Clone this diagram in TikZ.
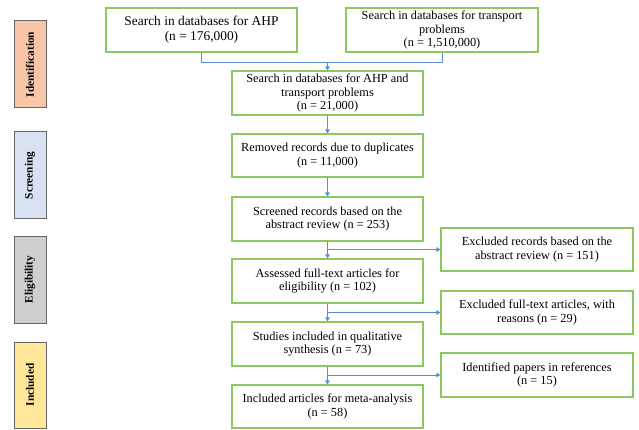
\documentclass[tikz,border=0pt]{standalone}
\usepackage{fontspec}
\setmainfont{Liberation Serif}
\usetikzlibrary{arrows.meta}
\definecolor{boxgreen}{HTML}{8DC85F}
\definecolor{arrowblue}{HTML}{5B8BD6}
\definecolor{idfill}{HTML}{F7C6A8}
\definecolor{scrfill}{HTML}{D9E2F3}
\definecolor{elifill}{HTML}{D0CECE}
\definecolor{incfill}{HTML}{FFE699}
\begin{document}
\begin{tikzpicture}[x=1pt,y=-1pt,
  box/.style={draw=boxgreen, line width=1.2pt, align=center, inner sep=0pt,
    minimum width=191pt, minimum height=44pt, font=\fontsize{12.3}{13.5}\selectfont},
  side/.style={draw=black!60, line width=1pt, rotate=90, inner sep=0pt,
    minimum width=87pt, minimum height=32pt, font=\fontsize{11.3}{13}\selectfont\bfseries},
  conn/.style={draw=arrowblue, line width=0.9pt},
  arr/.style={conn, -{Triangle[length=4pt,width=4.5pt]}}]
\useasboundingbox (0,0) rectangle (639,430);

% side labels
\node[side, fill=idfill] (sid) at (30,64.5) {Identification};
\node[side, fill=scrfill] (sscr) at (30,175.5) {Screening};
\node[side, fill=elifill] (seli) at (30,279.5) {Eligibility};
\node[side, fill=incfill, minimum width=86pt] (sinc) at (30,385) {Included};

% boxes
\node[box, font=\fontsize{13.4}{15}\selectfont] (ahp) at (201.5,30) {Search in databases for AHP\\(n = 176,000)};
\node[box, minimum width=192pt] (trans) at (442,30) {Search in databases for transport\\problems\\(n = 1,510,000)};
\node[box] (b3) at (327.5,93) {Search in databases for AHP and\\transport problems\\(n = 21,000)};
\node[box, minimum height=43pt] (b4) at (327.5,155.5) {Removed records due to duplicates\\(n = 11,000)};
\node[box] (b5) at (327.5,219) {Screened records based on the\\abstract review (n = 253)};
\node[box] (b6) at (327.5,281) {Assessed full-text articles for\\eligibility (n = 102)};
\node[box] (b7) at (327.5,344) {Studies included in qualitative\\synthesis (n = 73)};
\node[box, minimum height=43pt] (b8) at (327.5,406.5) {Included articles for meta-analysis\\(n = 58)};
\node[box, minimum width=192pt, minimum height=43pt] (r1) at (537,249.5) {Excluded records based on the\\abstract review (n = 151)};
\node[box, minimum width=192pt, minimum height=43pt] (r2) at (537,312.5) {Excluded full-text articles, with\\reasons (n = 29)};
\node[box, minimum width=192pt] (r3) at (537,375) {Identified papers in references\\(n = 15)};

% connectors
\coordinate (j) at (327.5,62);
\draw[conn] (ahp.south) -- (ahp.south |- j) -- (trans.south |- j) -- (trans.south);
\draw[arr] (j) -- (b3.north);
\draw[arr] (b3.south) -- (b4.north);
\draw[arr] (b4.south) -- (b5.north);
\draw[arr] (b5.south) -- (b6.north);
\draw[arr] (b6.south) -- (b7.north);
\draw[arr] (b7.south) -- (b8.north);
\draw[arr] (b5.south |- r1.west) -- (r1.west);
\draw[arr] (b6.south |- r2.west) -- (r2.west);
\draw[arr] (b7.south |- r3.west) -- (r3.west);
\end{tikzpicture}
\end{document}
